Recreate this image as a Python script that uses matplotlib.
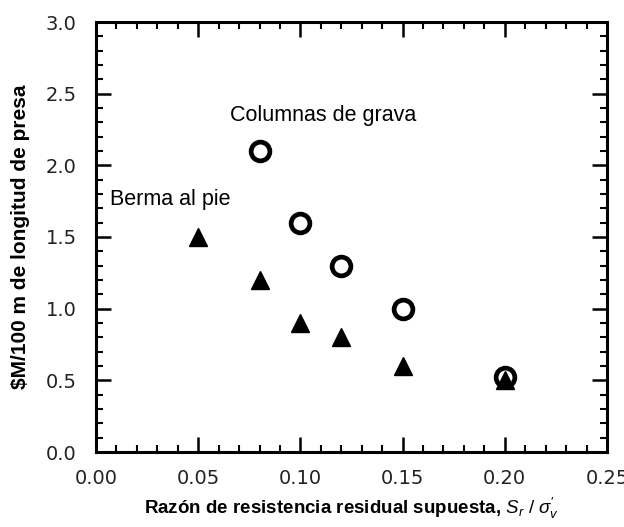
import matplotlib
matplotlib.use("Agg")
import matplotlib.pyplot as plt
from matplotlib.ticker import MultipleLocator, FormatStrFormatter

# Columnas de grava (open circles)
grava_x = [0.08, 0.10, 0.12, 0.15, 0.20]
grava_y = [2.1, 1.6, 1.3, 1.0, 0.52]

# Berma al pie (filled triangles)
berma_x = [0.05, 0.08, 0.10, 0.12, 0.15, 0.20]
berma_y = [1.5, 1.2, 0.9, 0.8, 0.6, 0.5]

plt.rcParams['mathtext.fontset'] = 'custom'
plt.rcParams['mathtext.it'] = 'Liberation Sans:italic'
plt.rcParams['mathtext.rm'] = 'Liberation Sans'

fig = plt.figure(figsize=(6.24, 5.27), dpi=100)
ax = fig.add_axes([96/624, 1 - 452/527, (607-96)/624, (452-22)/527])

ax.plot(berma_x, berma_y, linestyle='none', marker='^', markersize=13,
        color='black', zorder=3)
ax.plot(grava_x, grava_y, linestyle='none', marker='o', markersize=13.5,
        markerfacecolor='none', markeredgecolor='black', markeredgewidth=3.4,
        zorder=4)

ax.text(0.0656, 2.345, 'Columnas de grava', fontsize=15.5,
        family='Liberation Sans', va='center')
ax.text(0.0068, 1.76, 'Berma al pie', fontsize=15.5,
        family='Liberation Sans', va='center')

ax.set_xlim(0, 0.25)
ax.set_ylim(0, 3.0)
ax.xaxis.set_major_locator(MultipleLocator(0.05))
ax.xaxis.set_minor_locator(MultipleLocator(0.01))
ax.yaxis.set_major_locator(MultipleLocator(0.5))
ax.yaxis.set_minor_locator(MultipleLocator(0.1))
ax.xaxis.set_major_formatter(FormatStrFormatter('%.2f'))
ax.yaxis.set_major_formatter(FormatStrFormatter('%.1f'))

ax.tick_params(which='both', direction='in', top=True, right=True,
               labelsize=14, labelcolor='#222222', color='black')
ax.tick_params(which='major', length=11, width=1.8)
ax.tick_params(axis='x', which='major', pad=12)
ax.tick_params(axis='y', which='major', pad=14)
ax.tick_params(which='minor', length=5, width=1.5)
for sp in ax.spines.values():
    sp.set_linewidth(2.2)

ax.set_xlabel(r"Razón de resistencia residual supuesta, $S_r\ /\ \sigma_v^{\prime}$",
              fontsize=13.5, fontweight='bold', family='Liberation Sans', labelpad=6)
ax.set_ylabel(r"\$M/100 m de longitud de presa", fontsize=15, fontweight='bold',
              family='Liberation Sans', labelpad=11)

fig.savefig('out.png', dpi=100)
